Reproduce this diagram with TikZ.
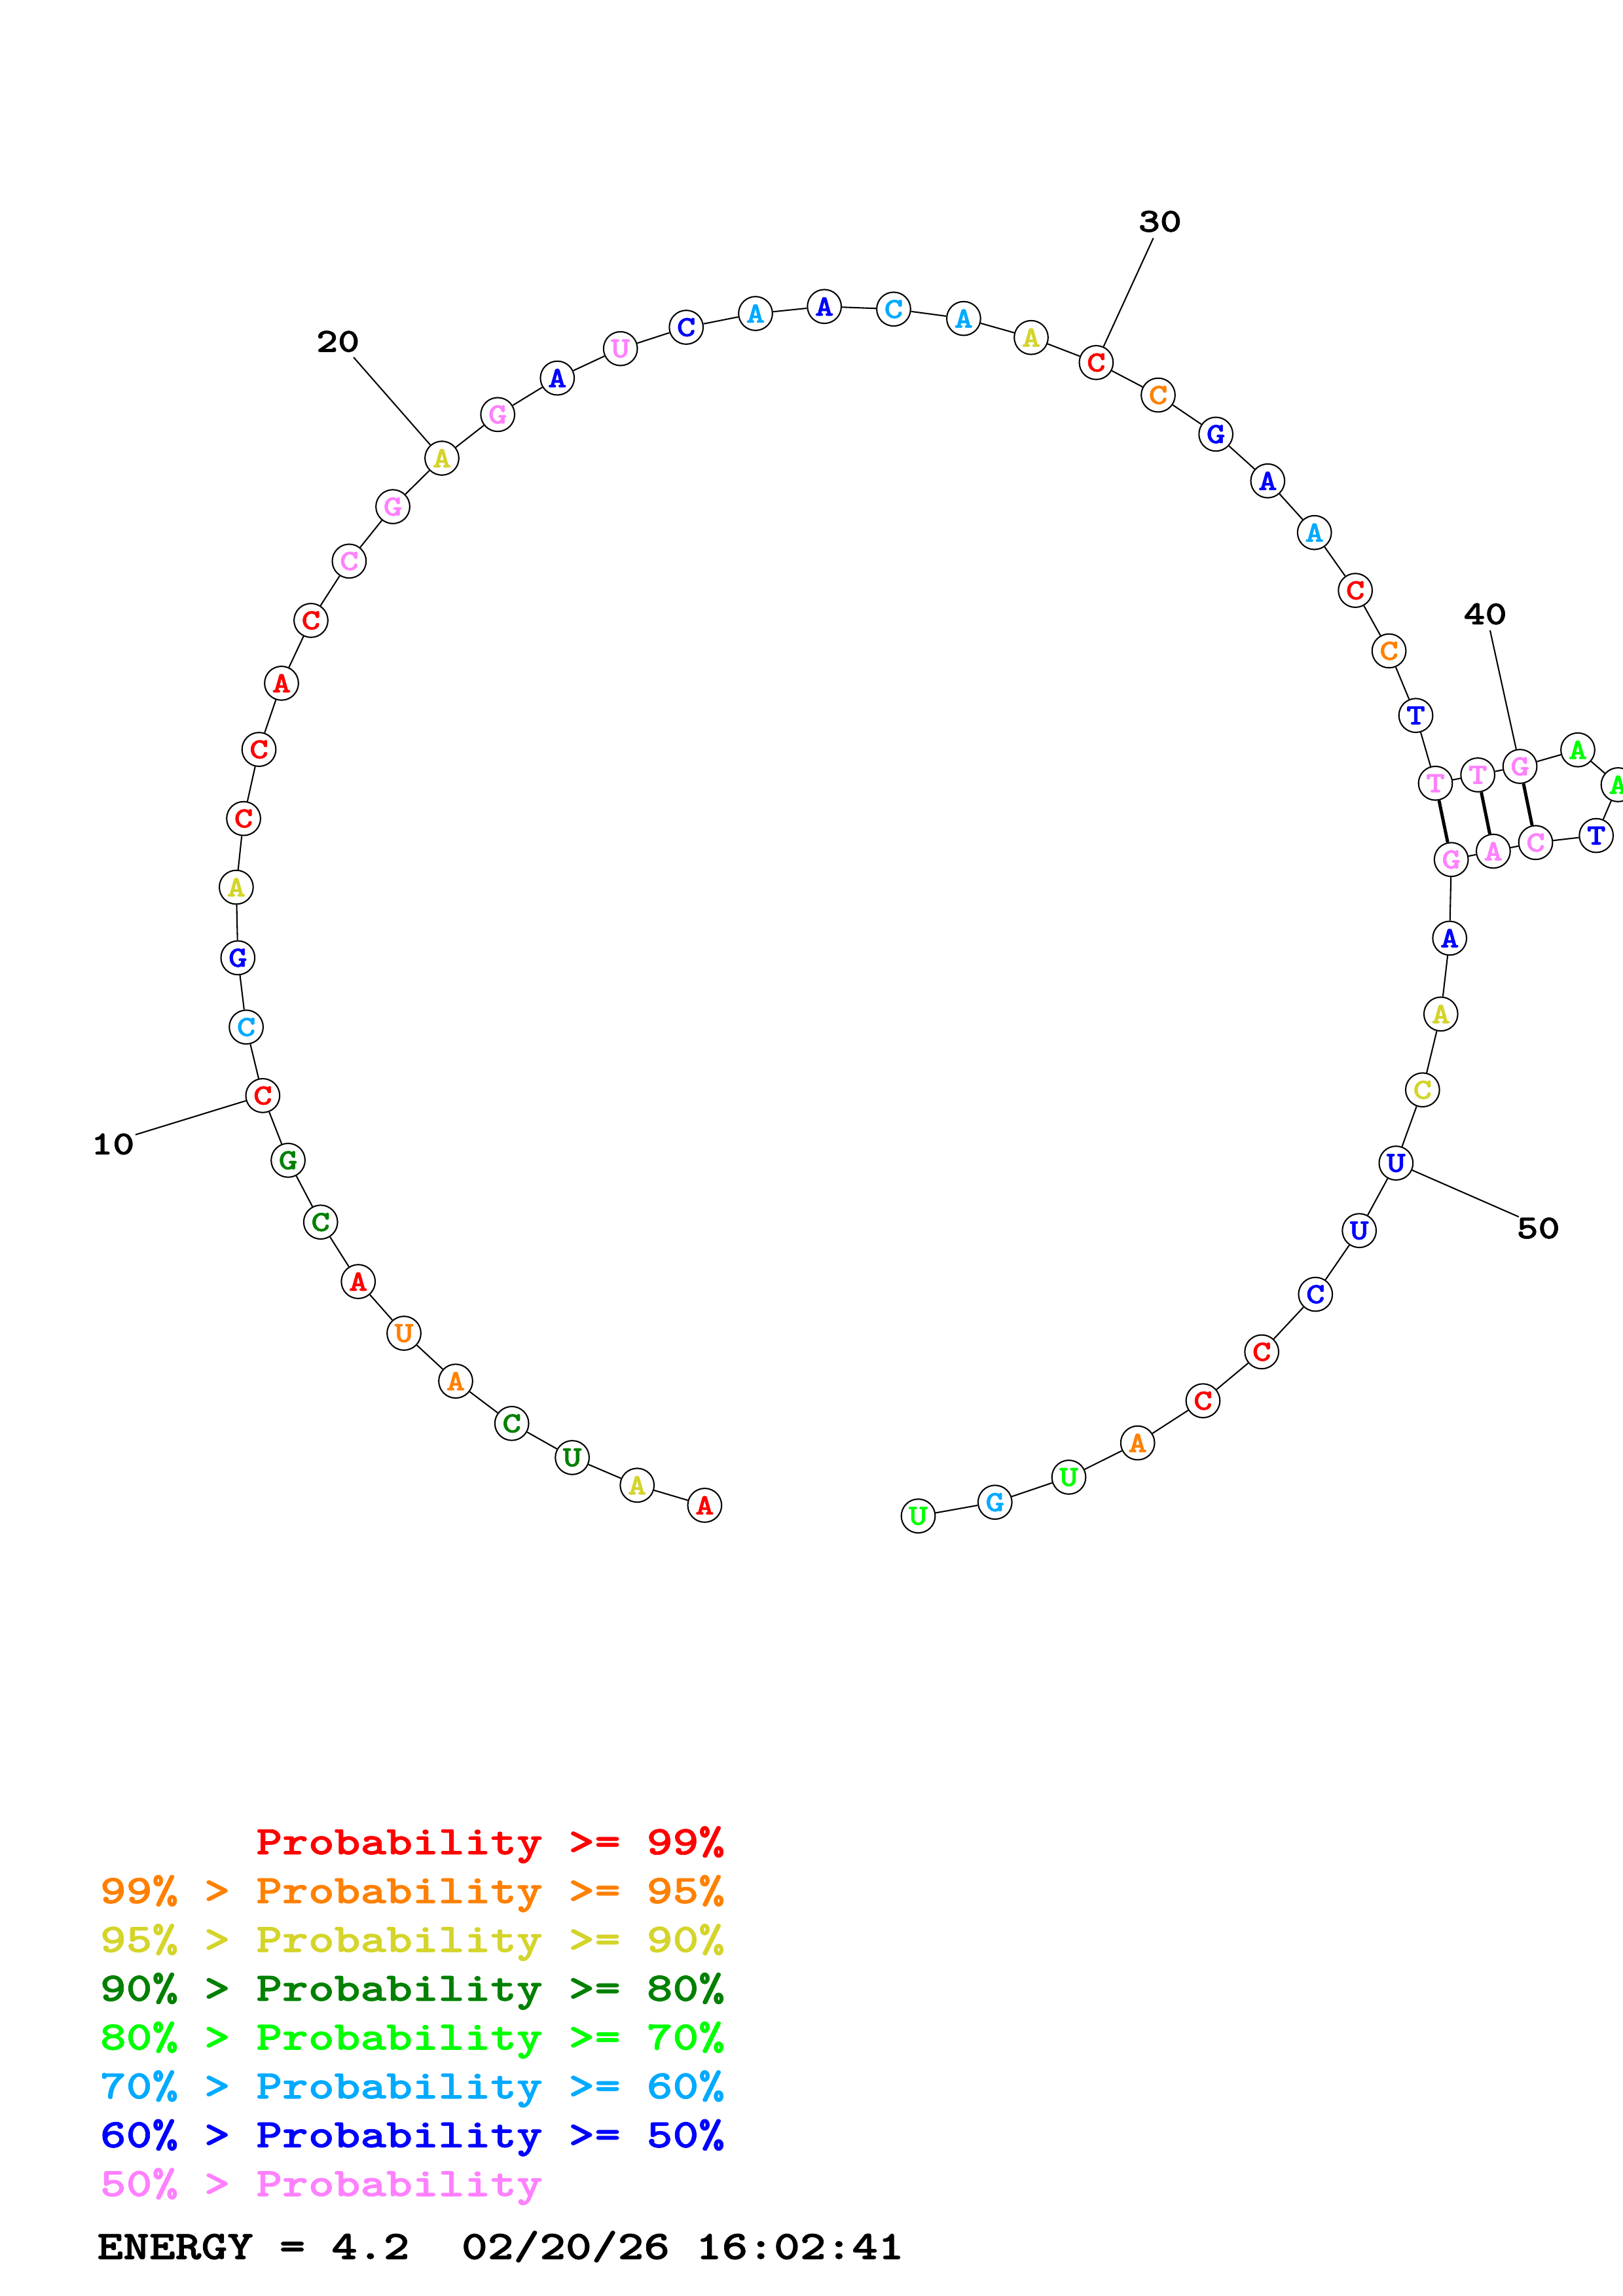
\documentclass[tikz,border=0pt]{standalone}
\usepackage{fontspec}
\usepackage{tikz}
\newfontfamily\rnafont{lmmonolt10-bold.otf}[FakeStretch=1.225,FakeBold=1.3]
\definecolor{pred}{HTML}{FF0000}
\definecolor{porg}{HTML}{FF8000}
\definecolor{pyel}{HTML}{D4D42B}
\definecolor{pdkg}{HTML}{008000}
\definecolor{pgrn}{HTML}{00FF00}
\definecolor{plbl}{HTML}{00AAFF}
\definecolor{pblu}{HTML}{0000FF}
\definecolor{ppnk}{HTML}{FF80FF}

\begin{document}
\begin{tikzpicture}[x=0.18953mm,y=-0.18953mm,
  nt/.style={circle,draw,fill=white,line width=0.5pt,minimum size=4.38mm,inner sep=0pt,
    text=#1,font=\rnafont\fontsize{10.8pt}{10.8pt}\selectfont},
  bb/.style={line width=0.5pt},
  bp/.style={line width=1.2pt},
  num/.style={inner sep=0pt,font=\rnafont\fontsize{12.4pt}{12.4pt}\selectfont},
  leg/.style={anchor=base west,inner sep=0pt,text=#1,
    font=\rnafont\fontsize{14.9pt}{14.9pt}\selectfont}]
\useasboundingbox (0,0) rectangle (1108,1568);

\node[nt=pred] (n1) at (481.1,1028.0) {A};
\node[nt=pyel] (n2) at (435.0,1014.3) {A};
\node[nt=pdkg] (n3) at (390.7,995.4) {U};
\node[nt=pdkg] (n4) at (349.4,972.1) {C};
\node[nt=porg] (n5) at (311.1,943.2) {A};
\node[nt=porg] (n6) at (275.8,910.5) {U};
\node[nt=pred] (n7) at (244.6,875.2) {A};
\node[nt=pdkg] (n8) at (218.9,834.6) {C};
\node[nt=pdkg] (n9) at (196.7,792.4) {G};
\node[nt=pred] (n10) at (179.4,748.2) {C};
\node[nt=plbl] (n11) at (168.1,701.4) {C};
\node[nt=pblu] (n12) at (162.4,654.1) {G};
\node[nt=pyel] (n13) at (161.3,605.9) {A};
\node[nt=pred] (n14) at (166.3,559.0) {C};
\node[nt=pred] (n15) at (176.8,511.8) {C};
\node[nt=pred] (n16) at (192.2,466.6) {A};
\node[nt=pred] (n17) at (212.3,423.7) {C};
\node[nt=ppnk] (n18) at (238.4,383.2) {C};
\node[nt=ppnk] (n19) at (268.2,346.0) {G};
\node[nt=pyel] (n20) at (301.7,312.9) {A};
\node[nt=ppnk] (n21) at (339.8,283.1) {G};
\node[nt=pblu] (n22) at (380.5,258.2) {A};
\node[nt=ppnk] (n23) at (423.6,238.1) {U};
\node[nt=pblu] (n24) at (468.5,223.5) {C};
\node[nt=plbl] (n25) at (515.8,214.1) {A};
\node[nt=pblu] (n26) at (562.8,209.3) {A};
\node[nt=plbl] (n27) at (610.1,211.1) {C};
\node[nt=plbl] (n28) at (657.9,217.5) {A};
\node[nt=pyel] (n29) at (704.0,230.5) {A};
\node[nt=pred] (n30) at (748.4,247.6) {C};
\node[nt=porg] (n31) at (790.7,269.8) {C};
\node[nt=pblu] (n32) at (830.1,296.5) {G};
\node[nt=pblu] (n33) at (865.5,328.4) {A};
\node[nt=plbl] (n34) at (897.4,363.7) {A};
\node[nt=pred] (n35) at (925.3,403.2) {C};
\node[nt=porg] (n36) at (948.3,444.5) {C};
\node[nt=pblu] (n37) at (966.6,488.6) {T};
\node[nt=ppnk] (n38) at (980.0,534.9) {T};
\node[nt=ppnk] (n39) at (1008.9,529.2) {T};
\node[nt=ppnk] (n40) at (1037.7,523.4) {G};
\node[nt=pgrn] (n41) at (1077.2,512.1) {A};
\node[nt=pgrn] (n42) at (1104.7,535.9) {A};
\node[nt=pblu] (n43) at (1089.8,570.6) {T};
\node[nt=ppnk] (n44) at (1048.4,575.4) {C};
\node[nt=ppnk] (n45) at (1019.5,581.3) {A};
\node[nt=ppnk] (n46) at (990.8,587.0) {G};
\node[nt=pblu] (n47) at (989.7,640.7) {A};
\node[nt=pyel] (n48) at (983.7,692.5) {A};
\node[nt=pyel] (n49) at (971.2,744.3) {C};
\node[nt=pblu] (n50) at (953.1,794.3) {U};
\node[nt=pblu] (n51) at (928.0,840.4) {U};
\node[nt=pblu] (n52) at (898.1,883.9) {C};
\node[nt=pred] (n53) at (861.4,923.2) {C};
\node[nt=pred] (n54) at (821.3,956.6) {C};
\node[nt=porg] (n55) at (776.7,985.4) {A};
\node[nt=pgrn] (n56) at (729.7,1008.8) {U};
\node[nt=plbl] (n57) at (679.3,1025.9) {G};
\node[nt=pgrn] (n58) at (626.9,1035.3) {U};

% backbone
\draw[bb] (n1) -- (n2) -- (n3) -- (n4) -- (n5) -- (n6) -- (n7) -- (n8) -- (n9) -- (n10)
  -- (n11) -- (n12) -- (n13) -- (n14) -- (n15) -- (n16) -- (n17) -- (n18) -- (n19) -- (n20)
  -- (n21) -- (n22) -- (n23) -- (n24) -- (n25) -- (n26) -- (n27) -- (n28) -- (n29) -- (n30)
  -- (n31) -- (n32) -- (n33) -- (n34) -- (n35) -- (n36) -- (n37) -- (n38) -- (n39) -- (n40)
  -- (n41) -- (n42) -- (n43) -- (n44) -- (n45) -- (n46) -- (n47) -- (n48) -- (n49) -- (n50)
  -- (n51) -- (n52) -- (n53) -- (n54) -- (n55) -- (n56) -- (n57) -- (n58);

% pairs
\draw[bp] (n38) -- (n46);
\draw[bp] (n39) -- (n45);
\draw[bp] (n40) -- (n44);

% numbering
\coordinate (t10) at (92.5,774.9);
\coordinate (t20) at (241.4,244.0);
\coordinate (t30) at (787.4,162.6);
\coordinate (t40) at (1017.3,430.5);
\coordinate (t50) at (1036.9,831.0);
\draw[bb] (n10) -- (t10);
\draw[bb] (n20) -- (t20);
\draw[bb] (n30) -- (t30);
\draw[bb] (n40) -- (t40);
\draw[bb] (n50) -- (t50);
\node[num] (l10) at (77.0,781.3) {10};
\node[num] (l20) at (230.7,233.2) {20};
\node[num] (l30) at (792.0,151.2) {30};
\node[num] (l40) at (1014.0,419.3) {40};
\node[num] (l50) at (1050.2,838.7) {50};

% legend
\node[leg=pred] (leg1) at (68,1266.3) {\phantom{99\% >\ }Probability >= 99\%};
\node[leg=porg] (leg2) at (68,1299.65) {99\% > Probability >= 95\%};
\node[leg=pyel] (leg3) at (68,1333.0) {95\% > Probability >= 90\%};
\node[leg=pdkg] (leg4) at (68,1366.35) {90\% > Probability >= 80\%};
\node[leg=pgrn] (leg5) at (68,1399.7) {80\% > Probability >= 70\%};
\node[leg=plbl] (leg6) at (68,1433.05) {70\% > Probability >= 60\%};
\node[leg=pblu] (leg7) at (68,1466.4) {60\% > Probability >= 50\%};
\node[leg=ppnk] (leg8) at (68,1499.75) {50\% > Probability};
\node[leg=black] (energy) at (66,1542.7) {ENERGY = 4.2\ \ 02/20/26 16:02:41};
\end{tikzpicture}
\end{document}
